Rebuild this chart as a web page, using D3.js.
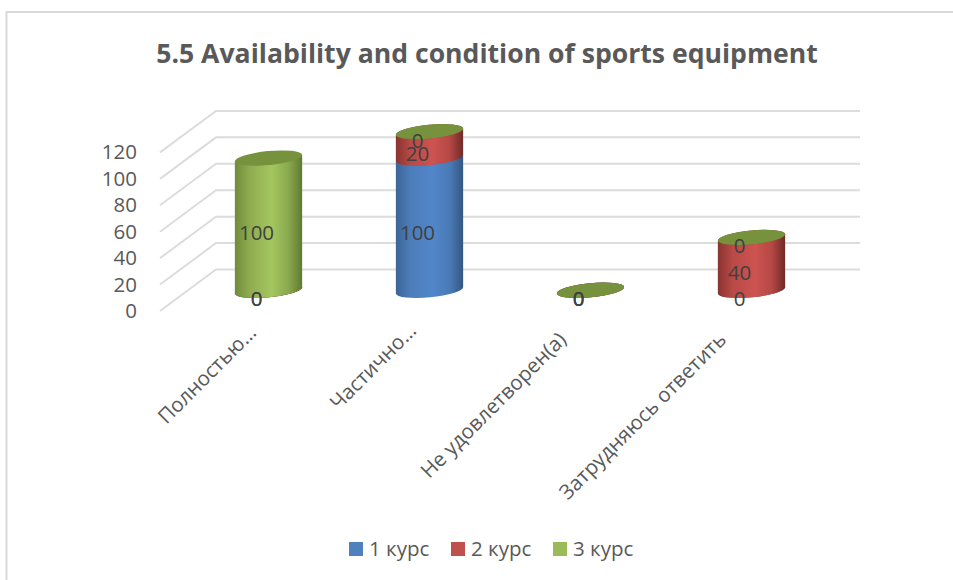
<!DOCTYPE html>
<html><head><meta charset="utf-8">
<script src="https://cdn.jsdelivr.net/npm/d3@7"></script>
<style>html,body{margin:0;padding:0;background:#fff}svg{display:block}text{font-family:"Open Sans",sans-serif}</style>
</head><body><div id="c"></div>
<script>
const titleText = "5.5 Availability and condition of sports equipment";
const categories = ["Полностью…","Частично…","Не удовлетворен(а)","Затрудняюсь ответить"];
const seriesNames = ["1 курс","2 курс","3 курс"];
const course1 = [0,100,0,0];
const course2 = [0,20,0,40];
const course3 = [100,0,0,0];
const yTicks = [0,20,40,60,80,100,120];
const seriesValues = [course1,course2,course3];
const W=953,H=580;
const legendCol=["#4f81bd","#c0504d","#9bbb59"];
const gradStops=[
 [["#3d6596",0],["#4c7dba",.22],["#5286cb",.55],["#4a7ab5",.8],["#345781",1]],
 [["#8a3330",0],["#b84a47",.22],["#cd5350",.55],["#b54845",.8],["#6f2a28",1]],
 [["#6f8c3a",0],["#8eac4f",.22],["#a4c65f",.55],["#8aa84e",.8],["#5f7a30",1]]
];
const topCol=["#44709f","#a8413e","#76923c"];
const svg=d3.select("#c").append("svg").attr("width",W).attr("height",H);
svg.append("rect").attr("width",W).attr("height",H).attr("fill","#fff");
svg.append("path").attr("d","M6.5,580V12H953").attr("fill","none").attr("stroke","#d9d9d9").attr("stroke-width",2);
svg.append("text").attr("x",487).attr("y",63).attr("text-anchor","middle").attr("font-size",26.6).attr("font-weight",700).attr("fill","#595959").text(titleText);

const depthX=56, depthY=41.5;
const plot={left:160,right:804,bottom:311};
const unit=158.6/120;
const yFront=d3.scaleLinear().domain([0,120]).range([plot.bottom,plot.bottom-120*unit]);
const x=d3.scaleBand().domain(categories).range([plot.left+depthX/2,plot.right+depthX/2]);
const yMid=v=>yFront(v)-depthY/2;

const grid=svg.append("g").attr("fill","none").attr("stroke","#dcdcdc").attr("stroke-width",2);
yTicks.forEach(t=>{
 const y=yFront(t);
 grid.append("path").attr("d",`M${plot.left},${y}L${plot.left+depthX},${y-depthY}H${plot.right+depthX}`);
});
const ax=svg.append("g").attr("transform",`translate(${plot.left-19},0)`).call(d3.axisLeft(yFront).tickValues(yTicks).tickSize(0).tickPadding(4));
ax.select(".domain").remove();
ax.selectAll("text").attr("font-size",20.5).attr("font-family",'"Open Sans",sans-serif').attr("fill","#595959");

const nudgeX=[-11,-12,-23,-24], nudgeY=[23,21,30,30];
const cx=svg.append("g").attr("transform",`translate(0,${plot.bottom})`).call(d3.axisBottom(x).tickSize(0).tickPadding(0));
cx.select(".domain").remove();
cx.selectAll("text").attr("font-size",20.5).attr("font-family",'"Open Sans",sans-serif').attr("fill","#595959")
 .attr("text-anchor","end").attr("dy",0).attr("y",0)
 .attr("transform",(d,i)=>`translate(${nudgeX[i]},${nudgeY[i]}) rotate(-45)`);

const defs=svg.append("defs");
gradStops.forEach((s,i)=>{
 const g=defs.append("linearGradient").attr("id","g"+i).attr("x1",0).attr("x2",1).attr("y1",0).attr("y2",0);
 s.forEach(([c,o])=>g.append("stop").attr("offset",o).attr("stop-color",c));
});
const rx=33.8, ry=7, rot=-5.5, ca=Math.cos(rot*Math.PI/180), sa=Math.sin(rot*Math.PI/180);
const bars=svg.append("g");
const labels=[];
categories.forEach((cat,ci)=>{
 const c=x(cat)+x.bandwidth()/2;
 let acc=0;
 seriesValues.forEach((vals,si)=>{
  const v=vals[ci], y0=yMid(acc), y1=yMid(acc+v);
  const lx=c-rx*ca, rxx=c+rx*ca, dy=rx*sa;
  if(v>0){
   bars.append("path").attr("fill",`url(#g${si})`)
    .attr("d",`M${lx},${y0-dy}A${rx},${ry},${rot},0,0,${rxx},${y0+dy}L${rxx},${y1+dy}L${lx},${y1-dy}Z`);
  }
  bars.append("ellipse").attr("cx",0).attr("cy",0).attr("rx",rx).attr("ry",ry)
   .attr("transform",`translate(${c},${y1}) rotate(${rot})`).attr("fill",topCol[si]);
  labels.push({x:c-12,y:yMid(acc+v/2)+8.7,v});
  acc+=v;
 });
});
svg.append("g").selectAll("text").data(labels).join("text")
 .attr("x",d=>d.x).attr("y",d=>d.y).attr("text-anchor","middle").attr("dy","0.35em")
 .attr("font-size",20.5).attr("fill","#404040").text(d=>d.v);

const lg=svg.append("g");
const legX=[349,451,553];
seriesNames.forEach((n,i)=>{
 lg.append("rect").attr("x",legX[i]).attr("y",542).attr("width",14).attr("height",14).attr("fill",legendCol[i]);
 lg.append("text").attr("x",legX[i]+20).attr("y",556).attr("font-size",20.5).attr("fill","#595959").text(n);
});
</script></body></html>
